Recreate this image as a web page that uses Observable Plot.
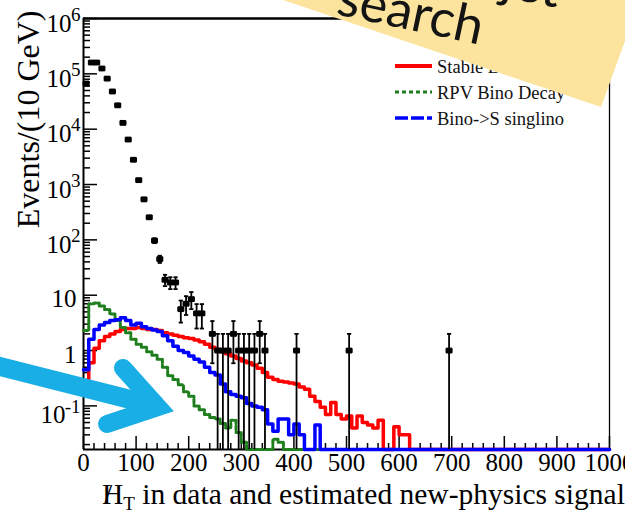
<!DOCTYPE html>
<html><head><meta charset="utf-8">
<script src="https://cdn.jsdelivr.net/npm/d3@7"></script>
<script src="https://cdn.jsdelivr.net/npm/@observablehq/plot@0.6"></script>
<style>
body{margin:0;background:#fff;}
#wrap{position:relative;width:625px;height:526px;overflow:hidden;background:#fff}
#xtitle{position:absolute;left:102px;top:480px;font-family:"Liberation Serif",serif;font-size:29.5px;line-height:29.5px;white-space:nowrap;color:#000}
#xtitle .h{position:relative;display:inline-block}
#xtitle .sl{position:absolute;left:2px;top:0}
#xtitle sub{font-size:19px;vertical-align:-6px;line-height:0}
#overlay{position:absolute;left:0;top:0}
</style></head><body>
<div id="wrap">
  <div id="chart"></div>
  <div id="xtitle"><span class="h">H<span class="sl">/</span></span><sub>T</sub> in data and estimated new-physics signals</div>
  <svg id="overlay" width="625" height="526"></svg>
</div>
<script>
// ---- data (10 GeV bins starting at 0) ----
const binWidth = 10;
const redStable = [0.2,0.6,1.1,1.5,1.8,2.0,2.2,2.4,2.5,2.5, 2.6,2.5,2.4,2.4,2.3,2.1,2.0,1.9,1.8,1.7,
  1.65,1.55,1.45,1.3,1.15,1.05,0.95,0.88,0.8,0.72, 0.65,0.6,0.55,0.48,0.4,0.33,0.3,0.28,0.27,0.26,
  0.25,0.22,0.2,0.15,0.12,0.095,0.07,0.115,0.07,0.058, 0.066,0.04,0.066,0.05,0.045,0.04,0.055,0,0,0.042,
  0.03,0.03,0];
const blueSinglino = [0.45,1.6,2.4,2.9,3.2,3.5,3.6,3.9,3.5,2.9, 3.1,2.7,2.5,2.35,2.2,1.85,1.5,1.2,1.0,0.92,
  0.8,0.7,0.62,0.5,0.4,0.36,0.25,0.18,0.16,0.15, 0.14,0.11,0.1,0.095,0.085,0.047,0.035,0.058,0.058,0.03,
  0.047,0.03,0,0,0.045,0];
const greenRPV = [2.3,7.0,7.2,6.4,5.5,4.6,3.5,2.6,2.1,1.6, 1.3,1.15,0.95,0.82,0.7,0.5,0.35,0.3,0.24,0.18,
  0.15,0.1,0.085,0.07,0.062,0.058,0.048,0.04,0.055,0.033, 0.022,0,0,0,0,0,0.025,0.022,0];

const dataX = [5,15,25,35,45,55,65,75,85,95,105,115,125,135,145,155,165,175,185,195,205,215,225,
  245,255,265,275,285,295,305,315,325,335,345,405,505,695];
const dataN = [6.7e4,1.6e5,1.6e5,1.25e5,8.2e4,4.8e4,2.7e4,1.3e4,6500,2800,1200,540,256,97,45,19,17,17,5.6,7,8.5,4.7,4.7,
  2,1,1,1,2,1,1,1,1,2,1,1,1,1];
const dataErr = [259,400,400,354,286,219,164,114,81,53,35,23,16,9.8,6.7,4.4,4.1,4.1,2.4,2.6,2.9,2.2,2.2,
  1.41,1,1,1,1.41,1,1,1,1,1.41,1,1,1,1];

const xTicks = [0,100,200,300,400,500,600,700,800,900,1000];
const yMajor = [0.1,1,10,100,1e3,1e4,1e5,1e6];
const yLabelsExp = [{v:1e6,b:"10",e:"6"},{v:1e5,b:"10",e:"5"},{v:1e4,b:"10",e:"4"},{v:1e3,b:"10",e:"3"},{v:1e2,b:"10",e:"2"}];
const yLabelsPlain = [{v:10,b:"10"},{v:1,b:"1"}];
const yLabelsNeg = [{v:0.1,b:"10",e:"-1"}];
const legendNames = ["Stable Bino","RPV Bino Decay","Bino->S singlino"];

// ---- layout ----
const yMin = 0.0163, yMax = 1e6;
const W = 625, H = 480, mL = 83, mR = 16, mT = 18, mB = 31;
const fw = W - mL - mR, fh = H - mT - mB;
const serif = "Liberation Serif";

function steps(vals) {
  const pts = vals.map((v, i) => ({x: i * binWidth, y: v > 0 ? v : yMin}));
  pts.push({x: 1000, y: pts[pts.length - 1].y});
  return pts;
}
const points = dataX.map((x, i) => ({
  x, y: dataN[i],
  hi: dataN[i] + dataErr[i],
  lo: Math.max(dataN[i] - dataErr[i], yMin)
}));
const xMinor = d3.range(0, 1001, 20).filter(v => v % 100 !== 0);
const yMinor = [];
for (let k = -2; k <= 5; k++) for (let m = 2; m <= 9; m++) {
  const v = m * Math.pow(10, k);
  if (v >= yMin && v <= yMax) yMinor.push(v);
}

const chart = Plot.plot({
  width: W, height: H,
  marginLeft: mL, marginRight: mR, marginTop: mT, marginBottom: mB,
  x: {domain: [0, 1000], axis: null},
  y: {type: "log", domain: [yMin, yMax], axis: null},
  marks: [
    // ticks (inward)
    Plot.tickX(xTicks, {x: d => d, insetTop: fh - 13, stroke: "#000", strokeWidth: 1.5}),
    Plot.tickX(xMinor, {x: d => d, insetTop: fh - 6, stroke: "#000", strokeWidth: 1.5}),
    Plot.tickY(yMajor, {y: d => d, insetRight: fw - 14, stroke: "#000", strokeWidth: 1.5}),
    Plot.tickY(yMinor, {y: d => d, insetRight: fw - 7, stroke: "#000", strokeWidth: 1.5}),
    // frame
    Plot.ruleX([0], {stroke: "#000", strokeWidth: 2}),
    Plot.ruleX([1000], {stroke: "#000", strokeWidth: 1.3}),
    Plot.ruleY([yMin], {stroke: "#000", strokeWidth: 2}),
    Plot.ruleY([yMax], {stroke: "#000", strokeWidth: 2.5}),
    // histograms
    Plot.line(steps(redStable), {x: "x", y: "y", curve: "step-after", stroke: "#ff0000", strokeWidth: 3.5}),
    Plot.line(steps(greenRPV), {x: "x", y: "y", curve: "step-after", stroke: "#1f7f1f", strokeWidth: 3, strokeDasharray: "4,2"}),
    Plot.line(steps(blueSinglino), {x: "x", y: "y", curve: "step-after", stroke: "#0000ff", strokeWidth: 3.5}),
    // data points with error bars
    Plot.ruleX(points, {x: "x", y1: "lo", y2: "hi", stroke: "#000", strokeWidth: 1.8}),
    Plot.link(points, {x1: d => d.x - 4, x2: d => d.x + 4, y1: "hi", y2: "hi", stroke: "#000", strokeWidth: 1.8}),
    Plot.link(points.filter(d => d.lo > yMin), {x1: d => d.x - 4, x2: d => d.x + 4, y1: "lo", y2: "lo", stroke: "#000", strokeWidth: 1.8}),
    Plot.link(points, {x1: d => d.x - 5, x2: d => d.x + 5, y1: "y", y2: "y", stroke: "#000", strokeWidth: 1.8}),
    Plot.link(points, {x1: d => d.x - 5, x2: d => d.x - 5, y1: d => d.y / 1.1, y2: d => d.y * 1.1, stroke: "#000", strokeWidth: 1.8}),
    Plot.link(points, {x1: d => d.x + 5, x2: d => d.x + 5, y1: d => d.y / 1.1, y2: d => d.y * 1.1, stroke: "#000", strokeWidth: 1.8}),
    Plot.dot(points, {x: "x", y: "y", symbol: "square", r: 3.3, fill: "#000"}),
    // x tick labels
    Plot.text(xTicks, {x: d => d, text: d => String(d), frameAnchor: "bottom", lineAnchor: "top", dy: 4,
      fontSize: 25, fontFamily: serif, fill: "#000"}),
    // y tick labels
    Plot.text(yLabelsExp, {y: "v", text: "b", frameAnchor: "left", textAnchor: "end", dx: -12, dy: 5, fontSize: 25, fontFamily: serif, fill: "#000"}),
    Plot.text(yLabelsExp, {y: "v", text: "e", frameAnchor: "left", textAnchor: "end", dx: -3, dy: -4, fontSize: 19, fontFamily: serif, fill: "#000"}),
    Plot.text(yLabelsPlain, {y: "v", text: "b", frameAnchor: "left", textAnchor: "end", dx: -7, dy: 4, fontSize: 25, fontFamily: serif, fill: "#000"}),
    Plot.text(yLabelsNeg, {y: "v", text: "b", frameAnchor: "left", textAnchor: "end", dx: -18, dy: 9, fontSize: 25, fontFamily: serif, fill: "#000"}),
    Plot.text(yLabelsNeg, {y: "v", text: "e", frameAnchor: "left", textAnchor: "end", dx: -3, dy: 1, fontSize: 19, fontFamily: serif, fill: "#000"}),
    // y axis title
    Plot.text(["Events/(10 GeV)"], {frameAnchor: "top-left", rotate: -90, textAnchor: "end", lineAnchor: "bottom",
      dx: -45, dy: -8, fontSize: 32, fontFamily: serif, fill: "#000"})
  ]
});
document.getElementById("chart").appendChild(chart);

// ---- legend + annotations overlay ----
const ov = document.getElementById("overlay");
const legendStyles = [
  {stroke: "#ff0000", dash: "", w: 4},
  {stroke: "#1f7f1f", dash: "4,3", w: 3},
  {stroke: "#0000ff", dash: "13,3", w: 3.5}
];
let s = "";
legendNames.forEach((name, i) => {
  const y = 66 + i * 26;
  const st = legendStyles[i];
  s += `<line x1="395" x2="432" y1="${y}" y2="${y}" stroke="${st.stroke}" stroke-width="${st.w}" ${st.dash ? `stroke-dasharray="${st.dash}"` : ""}/>`;
  s += `<text x="437" y="${y + 6.5}" font-family="${serif}" font-size="18.5" fill="#111">${name.replace(">", "&gt;")}</text>`;
});
// sticky note
s += `<polygon points="283,0 601,107 625,41 625,0" fill="#fde49e"/>`;
s += `<text transform="translate(557,8) rotate(12)" text-anchor="end" font-family="Lato" font-size="52" fill="#141414">Multijet</text>`;
s += `<text transform="translate(335,14) rotate(12)" font-family="Lato" font-size="52" fill="#141414">search</text>`;
// arrow
s += `<line x1="-10" y1="364" x2="160" y2="407" stroke="#1aaee6" stroke-width="19"/>`;
s += `<polyline points="123,368 158,407 107,424" fill="none" stroke="#1aaee6" stroke-width="18" stroke-linecap="round" stroke-linejoin="miter"/>`;
ov.innerHTML = s;
</script>
</body></html>
